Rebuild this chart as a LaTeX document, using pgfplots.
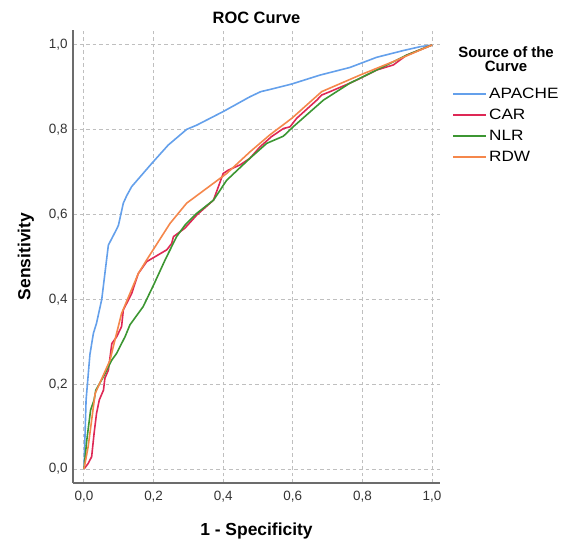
\documentclass[border=0pt]{standalone}
\usepackage{fontspec}
\setmainfont{Liberation Sans}
\newfontfamily\wide[FakeStretch=1.15]{Liberation Sans}
\usepackage{pgfplots}
\pgfplotsset{compat=1.18}
\definecolor{capache}{RGB}{100,160,235}
\definecolor{ccar}{RGB}{222,40,85}
\definecolor{cnlr}{RGB}{60,150,50}
\definecolor{crdw}{RGB}{245,135,75}
\begin{document}
\begin{tikzpicture}[x=1bp,y=1bp]
\useasboundingbox (-73,-59) rectangle (490,483);
\begin{axis}[
  at={(0,0)}, anchor=south west,
  scale only axis, width=367bp, height=453bp,
  xmin=-0.0316, xmax=1.023, ymin=-0.033, ymax=1.0354,
  axis x line=bottom, axis y line=left,
  axis line style={-, draw=gray!85!black, line width=1.3bp},
  xtick={0,0.2,...,1.0}, ytick={0,0.2,...,1.0},
  major tick length=0pt,
  grid=major,
  major grid style={dash pattern=on 3.5bp off 3bp, draw=gray!50, line width=1bp},
  /pgf/number format/.cd, use comma, fixed, fixed zerofill, precision=1, assume math mode=true,
  /pgfplots/.cd,
  ticklabel style={font=\fontsize{13.5}{15}\selectfont, text=black!80},
  xticklabel style={yshift=-5bp},
  yticklabel style={xshift=-2bp},
  xlabel={\textbf{1 - Specificity}},
  ylabel={\textbf{Sensitivity}},
  label style={font=\fontsize{17.5}{19}\selectfont},
  xlabel style={yshift=-13bp},
  ylabel style={yshift=8bp},
  title={\textbf{ROC Curve}},
  title style={font=\fontsize{16.5}{18}\selectfont, yshift=-3bp},
  legend style={at={(1.033,0.874)}, anchor=north west, draw=none, fill=none,
    font=\wide\fontsize{15}{16}\selectfont, row sep=7bp, inner sep=0pt,
    nodes={inner xsep=2bp, inner ysep=1bp}},
  legend cell align=left,
  legend image code/.code={\draw[#1, line width=1.8bp] (0bp,0bp) -- (33bp,0bp);},
  every axis plot/.append style={line width=1.6bp, line join=round},
  clip=false,
]
\addplot[capache] table {
x y
0 0
0.006 0.163
0.017 0.27
0.027 0.32
0.036 0.344
0.051 0.40
0.070 0.528
0.094 0.566
0.099 0.575
0.113 0.627
0.123 0.645
0.137 0.666
0.195 0.721
0.242 0.764
0.295 0.801
0.324 0.811
0.400 0.843
0.477 0.878
0.508 0.890
0.534 0.895
0.597 0.908
0.678 0.929
0.764 0.947
0.841 0.971
0.918 0.987
0.966 0.996
1 1
};
\addlegendentry{APACHE}
\addplot[ccar] table {
x y
0 0
0.012 0.013
0.022 0.029
0.029 0.084
0.036 0.131
0.044 0.163
0.056 0.186
0.060 0.214
0.070 0.233
0.080 0.296
0.094 0.312
0.108 0.336
0.113 0.375
0.137 0.414
0.156 0.461
0.180 0.489
0.238 0.517
0.252 0.532
0.257 0.548
0.290 0.568
0.324 0.599
0.372 0.634
0.400 0.697
0.415 0.705
0.448 0.717
0.477 0.733
0.506 0.760
0.539 0.784
0.573 0.803
0.592 0.807
0.611 0.827
0.669 0.870
0.683 0.882
0.707 0.890
0.764 0.910
0.793 0.921
0.841 0.941
0.889 0.953
0.927 0.976
1 1
};
\addlegendentry{CAR}
\addplot[cnlr] table {
x y
0 0
0.008 0.068
0.019 0.139
0.029 0.163
0.034 0.186
0.056 0.218
0.080 0.257
0.094 0.273
0.108 0.296
0.118 0.312
0.132 0.340
0.170 0.383
0.200 0.434
0.233 0.493
0.266 0.548
0.290 0.575
0.324 0.603
0.372 0.634
0.410 0.681
0.477 0.733
0.525 0.768
0.573 0.785
0.601 0.807
0.688 0.870
0.764 0.910
0.841 0.941
0.927 0.976
1 1
};
\addlegendentry{NLR}
\addplot[crdw] table {
x y
0 0
0.012 0.053
0.032 0.178
0.075 0.257
0.084 0.288
0.108 0.367
0.132 0.414
0.156 0.461
0.180 0.493
0.247 0.579
0.295 0.627
0.410 0.697
0.477 0.748
0.534 0.788
0.597 0.827
0.683 0.890
0.793 0.929
0.889 0.961
1 1
};
\addlegendentry{RDW}
\node[font=\fontsize{15}{14}\selectfont\bfseries, align=center, anchor=north, inner sep=0pt]
  at (rel axis cs:1.18,0.963) {Source of the\\Curve};
\end{axis}
\end{tikzpicture}
\end{document}
